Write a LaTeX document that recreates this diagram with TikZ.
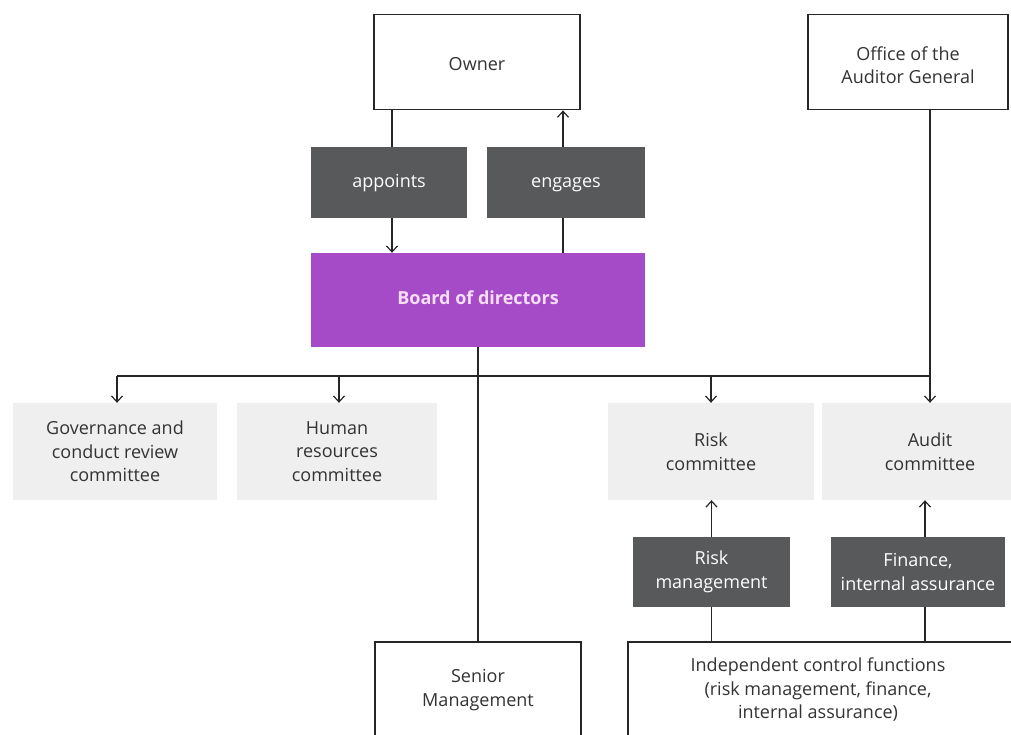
\documentclass[tikz,border=0pt]{standalone}
\usepackage{fontspec}
\setmainfont{Open Sans}
\usetikzlibrary{arrows.meta,calc}
\definecolor{darkbox}{HTML}{58595B}
\definecolor{boardpurple}{HTML}{A64BC8}
\definecolor{boardtext}{HTML}{F6DDF8}
\definecolor{commfill}{HTML}{EFEFEF}
\definecolor{txt}{HTML}{333333}
\begin{document}
\begin{tikzpicture}[x=1pt,y=-1pt,
  every node/.style={font=\fontsize{18}{23.5}\selectfont, align=center, text=txt, inner sep=0pt},
  whitebox/.style={draw=black!85, line width=1.8pt, fill=white},
  darkbx/.style={fill=darkbox, text=white},
  commbox/.style={fill=commfill},
  conn/.style={line width=1.2pt, black!85},
  arr/.style={conn, -{Straight Barb[length=6pt,width=11pt,line width=1.2pt]}}
]
\useasboundingbox (0,0) rectangle (1011,734);
% boxes
\node[whitebox, minimum width=206pt, minimum height=95pt] (owner) at (477,62) {};
\node (ownertext) at (477,64) {Owner};
\node[whitebox, minimum width=200pt, minimum height=95pt] (oag) at (908,62) {};
\node (oagtext) at (908,65) {Office of the\\Auditor General};
\node[darkbx, minimum width=156pt, minimum height=71pt] (appoints) at (389,182.5) {\strut appoints};
\node[darkbx, minimum width=158pt, minimum height=71pt] (engages) at (566,182.5) {\strut engages};
\node[fill=boardpurple, text=boardtext, font=\fontsize{18}{23.5}\selectfont\bfseries, minimum width=334pt, minimum height=94pt] (board) at (478,300) {\strut Board of directors};
\node[commbox, minimum width=204pt, minimum height=97pt] (gov) at (115,451.5) {Governance and\\conduct review\\committee};
\node[commbox, minimum width=200pt, minimum height=97pt] (hr) at (337,451.5) {Human\\resources\\committee};
\node[commbox, minimum width=206pt, minimum height=97pt] (risk) at (711,451.5) {Risk\\committee};
\node[commbox, minimum width=216pt, minimum height=97pt] (audit) at (930,451.5) {Audit\\committee};
\node[darkbx, minimum width=157pt, minimum height=70pt] (riskmgmt) at (711.5,572) {Risk\\management};
\node[darkbx, minimum width=174pt, minimum height=70pt] (finance) at (918,572) {Finance,\\internal assurance};
\node[whitebox, minimum width=206pt, minimum height=96pt] (senior) at (478,690) {Senior\\Management};
\node[whitebox, minimum width=400pt, minimum height=96pt] (icf) at (828,690) {};
\node (icftext) at (818,690) {Independent control functions\\(risk management, finance,\\internal assurance)};
% owner <-> board
\draw[conn] ([xshift=3pt]appoints.north |- owner.south) -- ([xshift=3pt]appoints.north);
\draw[arr] ([xshift=3pt]appoints.south) -- ([xshift=3pt]appoints.south |- board.north);
\draw[conn] ([xshift=-3pt]engages.south |- board.north) -- ([xshift=-3pt]engages.south);
\draw[arr] ([xshift=-3pt]engages.north) -- ([xshift=-3pt]engages.north |- owner.south);
% bus
\coordinate (busL) at (117,376);
\coordinate (busR) at (930,376);
\draw[conn] (board.south) -- (senior.north);
\draw[conn] (busL) -- (busR);
\draw[arr] (busL) -- (busL |- gov.north);
\draw[arr] (busL -| 339,0) -- (339,0 |- hr.north);
\draw[arr] (busL -| risk.north) -- (risk.north);
\draw[arr] (busR |- oag.south) -- (busR |- audit.north);
% control functions
\draw[conn] (riskmgmt.south |- icf.north) -- (riskmgmt.south);
\draw[arr] (riskmgmt.north) -- (riskmgmt.north |- risk.south);
\draw[conn] ([xshift=7pt]finance.south |- icf.north) -- ([xshift=7pt]finance.south);
\draw[arr] ([xshift=7pt]finance.north) -- ([xshift=7pt]finance.north |- audit.south);
\end{tikzpicture}
\end{document}
